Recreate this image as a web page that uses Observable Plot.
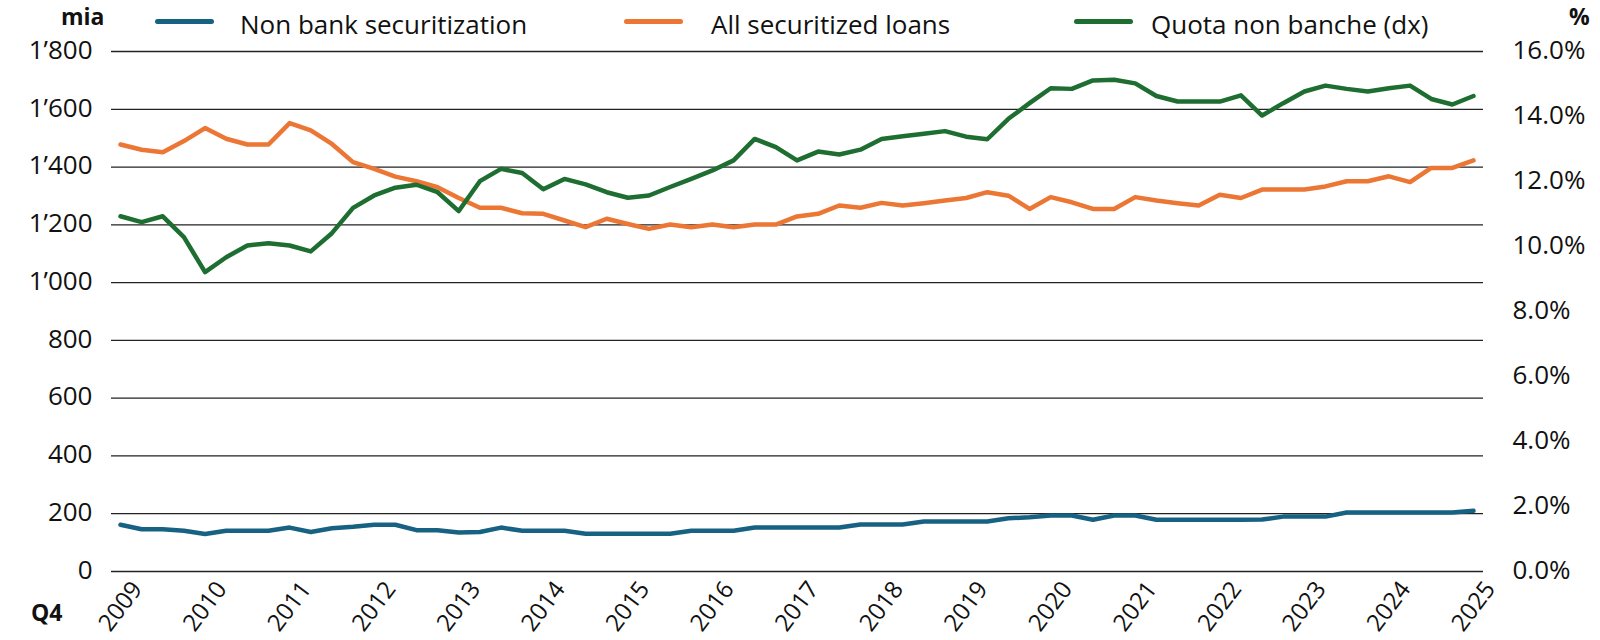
<!DOCTYPE html>
<html>
<head>
<meta charset="utf-8">
<script src="https://cdn.jsdelivr.net/npm/d3@7"></script>
<script src="https://cdn.jsdelivr.net/npm/@observablehq/plot@0.6"></script>
<style>
  body { margin: 0; background: #fff; font-family: "Open Sans", sans-serif; color: #111; }
  #wrap { position: relative; width: 1600px; height: 640px; background: #fff; }
  #legend { position: relative; width: 1600px; height: 26px; font-size: 26px; line-height: 26px; }
  #legend .sw { position: absolute; top: 19px; width: 59px; height: 5px; border-radius: 3px; z-index: 2; }
  #legend .tx { position: absolute; top: 11px; white-space: nowrap; z-index: 2; }
  .unit { position: absolute; font-weight: bold; font-size: 23px; line-height: normal; white-space: nowrap; z-index: 2; }
  #chart { position: relative; z-index: 1; }
</style>
</head>
<body>
<div id="wrap">
  <div id="legend"></div>
  <div id="chart"></div>
</div>
<script>
// ---- data ----
const quarters = [
  "2009 Q4",
  "2010 Q1","2010 Q2","2010 Q3","2010 Q4",
  "2011 Q1","2011 Q2","2011 Q3","2011 Q4",
  "2012 Q1","2012 Q2","2012 Q3","2012 Q4",
  "2013 Q1","2013 Q2","2013 Q3","2013 Q4",
  "2014 Q1","2014 Q2","2014 Q3","2014 Q4",
  "2015 Q1","2015 Q2","2015 Q3","2015 Q4",
  "2016 Q1","2016 Q2","2016 Q3","2016 Q4",
  "2017 Q1","2017 Q2","2017 Q3","2017 Q4",
  "2018 Q1","2018 Q2","2018 Q3","2018 Q4",
  "2019 Q1","2019 Q2","2019 Q3","2019 Q4",
  "2020 Q1","2020 Q2","2020 Q3","2020 Q4",
  "2021 Q1","2021 Q2","2021 Q3","2021 Q4",
  "2022 Q1","2022 Q2","2022 Q3","2022 Q4",
  "2023 Q1","2023 Q2","2023 Q3","2023 Q4",
  "2024 Q1","2024 Q2","2024 Q3","2024 Q4",
  "2025 Q1","2025 Q2","2025 Q3","2025 Q4"
];
// mia (left axis)
const nonBank = [162,146,146,141,130,141,141,141,152,137,
                 150,155,162,162,143,143,135,137,152,141,
                 141,141,131,131,131,131,131,141,141,141,
                 152,152,152,152,152,163,163,163,173,173,
                 173,173,184,188,194,194,179,194,194,179,
                 179,179,179,179,180,190,190,190,204,204,
                 204,204,204,204,210];
const allLoans = [1478,1460,1451,1490,1535,1498,1478,1478,1552,1527,
                  1480,1417,1394,1367,1351,1330,1293,1259,1259,1240,
                  1238,1215,1192,1221,1203,1186,1201,1192,1201,1192,
                  1201,1201,1229,1238,1267,1259,1276,1267,1275,1284,
                  1293,1313,1301,1255,1296,1278,1255,1255,1296,1284,
                  1275,1267,1304,1293,1322,1322,1322,1333,1351,1351,
                  1368,1348,1397,1397,1423];
// % (right axis)
const quota = [10.93,10.75,10.93,10.29,9.21,9.67,10.03,10.10,10.03,9.85,
               10.41,11.19,11.57,11.81,11.90,11.67,11.09,12.01,12.39,12.26,
               11.76,12.08,11.91,11.67,11.50,11.57,11.83,12.08,12.34,12.65,
               13.31,13.06,12.65,12.92,12.83,12.98,13.31,13.39,13.47,13.55,
               13.38,13.30,13.93,14.41,14.87,14.85,15.11,15.13,15.02,14.63,
               14.46,14.46,14.46,14.65,14.03,14.41,14.77,14.95,14.85,14.77,
               14.87,14.95,14.54,14.37,14.63];

const seriesNames = ["Non bank securitization", "All securitized loans", "Quota non banche (dx)"];
const seriesColors = ["#176283", "#ec7633", "#1e6e32"];
const leftTicks = [0,200,400,600,800,1000,1200,1400,1600,1800];
const rightTicks = [0,2,4,6,8,10,12,14,16];
const leftUnit = "mia";
const rightUnit = "%";
const xUnit = "Q4";

// ---- derived ----
const leftMax = 1800, rightMax = 16;
const k = leftMax / rightMax; // right -> left scale factor
const rows = quarters.map((q, i) => ({i, q, nonBank: nonBank[i], allLoans: allLoans[i], quota: quota[i]}));
const q4Index = quarters.map((q, i) => q.endsWith("Q4") ? i : -1).filter(i => i >= 0);
const fmtLeft = d => d3.format(",")(d).replace(",", "\u2019");

// ---- legend (HTML above the SVG) ----
const legend = document.getElementById("legend");
const swLeft = [155, 624, 1074];
const txLeft = [240, 711, 1151];
seriesNames.forEach((name, j) => {
  const sw = document.createElement("div");
  sw.className = "sw"; sw.style.left = swLeft[j] + "px"; sw.style.background = seriesColors[j];
  legend.appendChild(sw);
  const tx = document.createElement("div");
  tx.className = "tx"; tx.style.left = txLeft[j] + "px"; tx.textContent = name;
  legend.appendChild(tx);
});
const wrap = document.getElementById("wrap");
function unit(text, css) {
  const el = document.createElement("div");
  el.className = "unit"; el.textContent = text;
  Object.assign(el.style, css);
  wrap.appendChild(el);
}
unit(leftUnit, {left: "61px", top: "0px"});
unit(rightUnit, {left: "1569px", top: "0px"});
unit(xUnit, {left: "31px", top: "596px"});

// ---- chart ----
const chart = Plot.plot({
  width: 1600,
  height: 614,
  marginTop: 25,
  marginBottom: 69,
  marginLeft: 111,
  marginRight: 117,
  style: {fontFamily: "'Open Sans', sans-serif", fontSize: "26px", color: "#111", background: "transparent"},
  x: {domain: [0, quarters.length - 1], insetLeft: 9, insetRight: 10, axis: null},
  y: {domain: [0, leftMax], axis: null},
  marks: [
    Plot.ruleY(leftTicks, {stroke: "#222", strokeWidth: 1.3}),
    Plot.axisY(leftTicks, {anchor: "left", tickSize: 0, tickPadding: 19, dy: -1, tickFormat: fmtLeft, label: null, fontSize: 26}),
    Plot.axisY(rightTicks.map(d => d * k), {anchor: "right", tickSize: 0, tickPadding: 29, dy: -1,
      tickFormat: d => (d / k).toFixed(1) + "%", label: null, fontSize: 26}),
    Plot.axisX(q4Index, {anchor: "bottom", tickSize: 0, tickRotate: -53, tickPadding: 35,
      textAnchor: "middle", lineAnchor: "middle", tickFormat: i => quarters[i].slice(0, 4), label: null, fontSize: 24}),
    Plot.line(rows, {x: "i", y: "nonBank", stroke: seriesColors[0], strokeWidth: 4.5, strokeLinejoin: "round", strokeLinecap: "round"}),
    Plot.line(rows, {x: "i", y: "allLoans", stroke: seriesColors[1], strokeWidth: 4.5, strokeLinejoin: "round", strokeLinecap: "round"}),
    Plot.line(rows, {x: "i", y: d => d.quota * k, stroke: seriesColors[2], strokeWidth: 4.5, strokeLinejoin: "round", strokeLinecap: "round"})
  ]
});
document.getElementById("chart").appendChild(chart);
</script>
</body>
</html>
